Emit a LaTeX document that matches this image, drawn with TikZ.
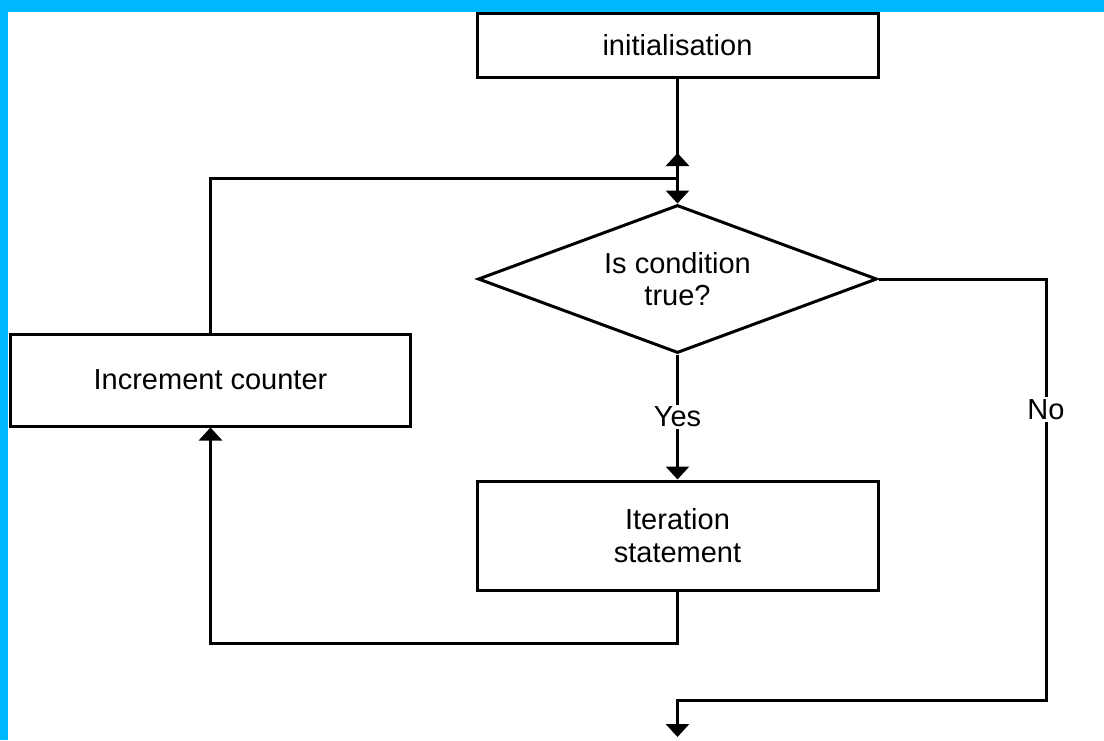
\documentclass[tikz,border=0pt]{standalone}
\usepackage{fontspec}
\setmainfont{Liberation Sans}
\usetikzlibrary{arrows.meta,shapes.geometric}
\definecolor{frameblue}{RGB}{0,184,255}
\tikzset{
  box/.style={draw=black, line width=3pt, fill=white, rectangle, inner sep=0pt, align=center, font=\fontsize{29}{33}\selectfont},
  decision/.style={draw=black, line width=3pt, fill=white, diamond, aspect=2.696, inner sep=0pt, align=center, font=\fontsize{29}{32}\selectfont},
  conn/.style={draw=black, line width=3pt},
  arr/.style={conn, -{Triangle[width=23pt,length=13pt]}},
  lbl/.style={fill=white, inner sep=2pt, font=\fontsize{29}{33}\selectfont}
}
\begin{document}
\begin{tikzpicture}[x=1pt,y=-1pt]
\useasboundingbox (0,0) rectangle (1104,740);
\fill[frameblue] (0,0) rectangle (1104,12);
\fill[frameblue] (0,0) rectangle (8,740);

\node[box, minimum width=401pt, minimum height=64pt] (init) at (677.5,45) {initialisation};
\node[decision, minimum width=399pt, minimum height=148pt] (cond) at (677.5,279) {Is condition\\true?};
\node[box, minimum width=400pt, minimum height=92pt] (inc) at (210.5,380) {Increment counter};
\node[box, minimum width=401pt, minimum height=109pt] (iter) at (677.5,535.5) {Iteration\\statement};

\coordinate (loopjoin) at (677.5,178);
\coordinate (looptip) at (677.5,153);
\coordinate (botleft) at (210.5,643);
\coordinate (botright) at (677.5,643);
\coordinate (noright) at (1046,279);
\coordinate (nodown) at (1046,700);
\coordinate (endturn) at (677.5,700);
\coordinate (end) at (677.5,737);

\draw[arr] (init.south) -- (cond.north);
\draw[arr] (inc.north) |- (loopjoin) -- (looptip);
\draw[arr] (cond.south) -- node[lbl, pos=0.5] {Yes} (iter.north);
\draw[arr] (iter.south) -- (botright) -- (botleft) -- (inc.south);
\draw[arr] (cond.east) -- (noright) -- node[lbl, pos=0.31] {No} (nodown) -- (endturn) -- (end);
\end{tikzpicture}
\end{document}
